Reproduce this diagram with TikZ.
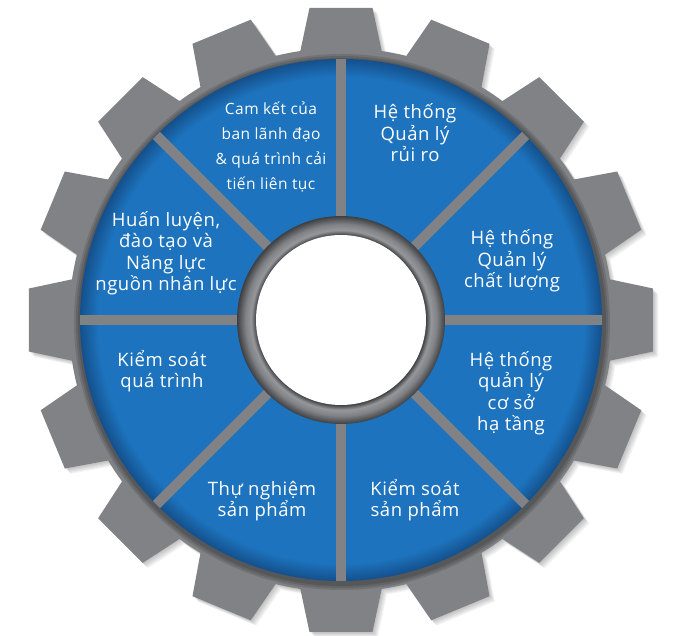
\documentclass[tikz,border=0pt]{standalone}
\usepackage{fontspec}
\setmainfont{Open Sans}[LetterSpace=3]

\definecolor{gearGray}{RGB}{128,130,134}
\definecolor{discBlue}{RGB}{29,115,189}
\definecolor{discEdge}{RGB}{20,80,140}
\definecolor{hubLight}{RGB}{150,151,155}
\definecolor{hubDark}{RGB}{62,63,66}

\pgfdeclareradialshading{discshade}{\pgfpointorigin}{color(0bp)=(discBlue); color(23.3bp)=(discBlue); color(25bp)=(discEdge); color(50bp)=(discEdge)}
\pgfdeclareradialshading{hubshade}{\pgfpointorigin}{color(0bp)=(hubDark); color(20.4bp)=(hubDark); color(21.6bp)=(hubLight); color(23bp)=(gearGray); color(25bp)=(hubDark); color(50bp)=(hubDark)}

% contorn de la roda dentada: cos + 16 dents
\newcommand{\gearshape}{(0,0) circle (272)
  \foreach \a in {0,22.5,...,337.5} {({\a-9.3}:263.5) -- ({\a-5.77}:313.6) -- ({\a+5.77}:313.6) -- ({\a+9.3}:263.5) -- cycle}}

\begin{document}
\begin{tikzpicture}[x=1pt, y=1pt,
    lblbig/.style={text=white, align=center, anchor=base, inner sep=0pt, font=\fontsize{18.5}{21.5}\selectfont},
    lblsmall/.style={lblbig, font=\fontsize{15.5}{25}\selectfont}]
    \useasboundingbox (-341,-316) rectangle (334,320);

    % 1. OMBRA I RODA DENTADA
    \foreach \s in {1,...,6}
        \fill[black, fill opacity=0.045, shift={(\s*0.9,-\s*0.9)}] \gearshape;
    \fill[gearGray] \gearshape;

    % 2. DISC BLAU
    \foreach \r in {268,266,264}
        \fill[black, fill opacity=0.12] (1,-2) circle (\r);
    \shade[shading=discshade] (0,0) circle (261);

    % Radis que separen els sectors
    \foreach \a in {0,45,...,315}
        \draw[gearGray, line width=10pt] (\a:100) -- (\a:261);

    % 3. ANELL CENTRAL
    \shade[shading=hubshade] (0,0) circle (104);
    \fill[white] (0,0) circle (85);

    % 4. TEXTOS DELS SECTORS (ancorats a la darrera línia)
    \node[lblsmall] (camket) at (-70,130) {Cam kết của\\ban lãnh đạo\\\& quá trình cải\\tiến liên tục};
    \node[lblbig] (ruiro) at (74,158) {Hệ thống\\Quản lý\\rủi ro};
    \node[lblbig] (huanluyen) at (-175,29) {Huấn luyện,\\đào tạo và\\Năng lực\\nguồn nhân lực};
    \node[lblbig] (chatluong) at (171,32) {Hệ thống\\Quản lý\\chất lượng};
    \node[lblbig] (hatang) at (170,-111) {Hệ thống\\quản lý\\cơ sở\\hạ tầng};
    \node[lblbig] (ksquatrinh) at (-179,-68) {Kiểm soát\\quá trình};
    \node[lblbig] (thunghiem) at (-79,-197) {Thự nghiệm\\sản phẩm};
    \node[lblbig] (kssanpham) at (74,-197) {Kiểm soát\\sản phẩm};
\end{tikzpicture}
\end{document}
